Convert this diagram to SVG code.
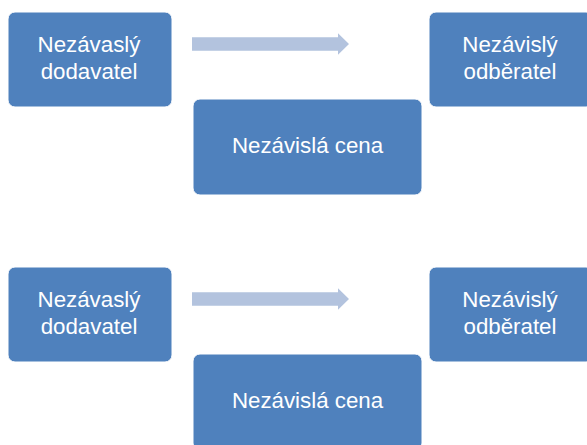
<svg xmlns="http://www.w3.org/2000/svg" width="587" height="445" viewBox="0 0 587 445">
<style>
.box{fill:#4F81BD;stroke:#ffffff;stroke-width:1}
.arr{fill:#B3C3DE}
text{font-family:"Liberation Sans",Arial,sans-serif;font-size:22.3px;fill:#ffffff;text-anchor:middle}
</style>
<rect width="587" height="445" fill="#ffffff"/>
<g id="connectors">
<polygon class="arr" points="192,37.3 338,37.3 338,33.3 349,44 338,54.7 338,50.7 192,50.7"/>
<polygon class="arr" points="192,292.3 338,292.3 338,288.3 349,299 338,309.7 338,305.7 192,305.7"/>
</g>
<g id="supplier1">
<rect class="box" x="8" y="12" width="164" height="95" rx="7"/>
<text x="89" y="51.7">Nezávaslý</text>
<text x="89" y="79">dodavatel</text>
</g>
<g id="customer1">
<rect class="box" x="429" y="12" width="164" height="95" rx="7"/>
<text x="510" y="51.7">Nezávislý</text>
<text x="510" y="79">odběratel</text>
</g>
<g id="price1">
<rect class="box" x="193" y="99" width="229" height="96" rx="7"/>
<text x="307.5" y="153.3">Nezávislá cena</text>
</g>
<g id="supplier2">
<rect class="box" x="8" y="267" width="164" height="95" rx="7"/>
<text x="89" y="306.7">Nezávaslý</text>
<text x="89" y="334">dodavatel</text>
</g>
<g id="customer2">
<rect class="box" x="429" y="267" width="164" height="95" rx="7"/>
<text x="510" y="306.7">Nezávislý</text>
<text x="510" y="334">odběratel</text>
</g>
<g id="price2">
<rect class="box" x="193" y="354" width="229" height="96" rx="7"/>
<text x="307.5" y="408.3">Nezávislá cena</text>
</g>
</svg>
